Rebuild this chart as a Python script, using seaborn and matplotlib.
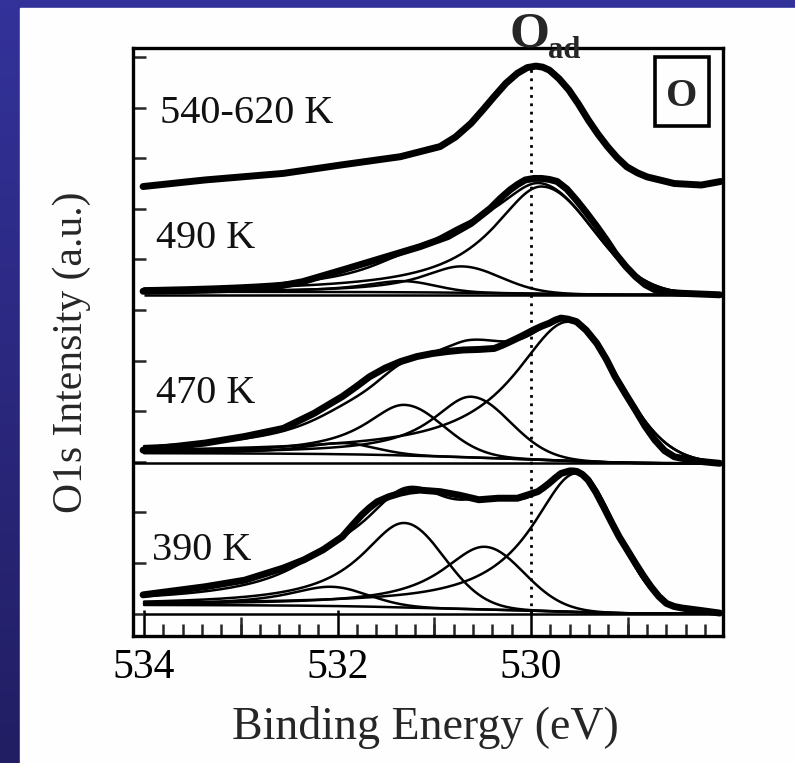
import numpy as np
import pandas as pd
import matplotlib
matplotlib.use("Agg")
import matplotlib.pyplot as plt
import seaborn as sns
from matplotlib.ticker import FixedLocator, MultipleLocator

be_390 = [534.01, 533.77, 533.37, 532.96, 532.56, 532.35, 532.15, 531.95, 531.85, 531.75,
          531.67, 531.59, 531.47, 531.35, 531.25, 531.15, 530.94, 530.74, 530.54, 530.34,
          530.14, 529.93, 529.87, 529.81, 529.75, 529.69, 529.60, 529.53, 529.47, 529.41,
          529.33, 529.25, 529.17, 529.09, 529.00, 528.92, 528.84, 528.76, 528.68, 528.60,
          528.52, 528.44, 528.24, 528.05]
int_390 = [0.37, 0.43, 0.53, 0.66, 0.90, 1.06, 1.26, 1.52, 1.74, 1.95,
           2.09, 2.21, 2.31, 2.38, 2.42, 2.44, 2.41, 2.34, 2.25, 2.28,
           2.28, 2.41, 2.49, 2.58, 2.68, 2.77, 2.82, 2.81, 2.75, 2.64,
           2.40, 2.11, 1.81, 1.52, 1.24, 0.99, 0.75, 0.53, 0.34, 0.20,
           0.14, 0.11, 0.06, 0.01]

be_470 = [534.01, 533.37, 532.96, 532.56, 532.24, 532.10, 531.95, 531.81, 531.67, 531.51,
          531.35, 531.18, 531.02, 530.86, 530.70, 530.54, 530.38, 530.30, 530.22, 530.10,
          529.97, 529.89, 529.81, 529.75, 529.69, 529.62, 529.53, 529.43, 529.32, 529.22,
          529.13, 529.02, 528.92, 528.82, 528.72, 528.62, 528.52, 528.32, 528.05]
int_470 = [3.23, 3.37, 3.50, 3.66, 3.96, 4.12, 4.29, 4.48, 4.68, 4.85,
           4.98, 5.08, 5.14, 5.18, 5.21, 5.22, 5.24, 5.30, 5.37, 5.48,
           5.61, 5.68, 5.74, 5.80, 5.84, 5.82, 5.77, 5.60, 5.34, 5.02,
           4.68, 4.33, 4.02, 3.70, 3.43, 3.22, 3.10, 3.02, 2.97]

be_490 = [534.01, 533.37, 532.72, 532.36, 531.95, 531.55, 531.15, 530.86, 530.62, 530.42,
          530.32, 530.22, 530.14, 530.06, 529.97, 529.89, 529.81, 529.73, 529.63, 529.53,
          529.43, 529.32, 529.22, 529.13, 529.02, 528.92, 528.82, 528.72, 528.58, 528.44,
          528.05]
int_490 = [6.37, 6.39, 6.43, 6.56, 6.79, 7.02, 7.25, 7.45, 7.71, 8.01,
           8.20, 8.37, 8.48, 8.57, 8.60, 8.60, 8.58, 8.54, 8.39, 8.17,
           7.93, 7.65, 7.38, 7.12, 6.86, 6.66, 6.50, 6.40, 6.35, 6.33,
           6.30]

be_540 = [534.01, 533.37, 532.56, 531.95, 531.35, 530.94, 530.78, 530.62, 530.50, 530.38,
          530.26, 530.14, 530.04, 529.95, 529.88, 529.81, 529.71, 529.61, 529.51, 529.41,
          529.31, 529.21, 529.11, 529.01, 528.90, 528.80, 528.52, 528.24, 528.04]
int_540 = [8.44, 8.57, 8.70, 8.87, 9.03, 9.23, 9.42, 9.69, 9.95, 10.22,
           10.48, 10.68, 10.79, 10.82, 10.80, 10.74, 10.57, 10.35, 10.07, 9.76,
           9.48, 9.23, 9.01, 8.83, 8.71, 8.63, 8.50, 8.47, 8.54]

# fitted peaks: centre (eV), height, FWHM on high-BE side, FWHM on low-BE side
fit_390_center = [532.07, 531.31, 530.48, 529.53]
fit_390_height = [0.38, 1.67, 1.24, 2.74]
fit_390_wl = [1.1, 1.1, 1.1, 1.15]
fit_390_wr = [0.9, 0.97, 0.95, 0.97]

fit_470_center = [531.95, 531.31, 530.62, 529.61]
fit_470_height = [0.22, 1.0, 1.2, 2.75]
fit_470_wl = [1.0, 1.0, 1.0, 1.4]
fit_470_wr = [0.8, 0.95, 0.95, 1.2]

fit_490_center = [531.33, 530.72, 529.89]
fit_490_height = [0.22, 0.52, 2.12]
fit_490_wl = [1.0, 1.0, 1.25]
fit_490_wr = [0.8, 0.95, 1.25]

# baseline level on the low-BE side and Shirley step height
base_levels = [0.0, 2.97, 6.30]
shirley_steps = [0.17, 0.20, 0.06]

temp_labels = ["390 K", "470 K", "490 K", "540-620 K"]
label_x = [533.92, 533.88, 533.88, 533.84]
label_y = [1.06, 4.16, 7.22, 9.69]


def peak(x, c, h, wl, wr):
    d = x - c
    hi = h / (1 + (2 * d / wl) ** 2)
    lo = h * np.exp(-4 * np.log(2) * (d / wr) ** 2)
    return np.where(d > 0, hi, lo)


sns.set_theme(style="white")
plt.rcParams["font.family"] = ["Liberation Serif", "DejaVu Serif"]

fig = plt.figure(figsize=(7.95, 7.63), dpi=100)
fig.patch.set_facecolor("#2c2b84")

# slide background: blue gradient with a white panel
bg_ax = fig.add_axes([0, 0, 1, 1], zorder=-10)
grad = np.linspace(0, 1, 256).reshape(-1, 1)
cmap = matplotlib.colors.LinearSegmentedColormap.from_list("slide", ["#33329a", "#221e63"])
bg_ax.imshow(grad, aspect="auto", cmap=cmap, extent=[0, 1, 0, 1])
bg_ax.add_patch(plt.Rectangle((20 / 795, 0), 1 - 20 / 795, 755 / 763, color="#fefefe"))
bg_ax.set_xlim(0, 1)
bg_ax.set_ylim(0, 1)
bg_ax.axis("off")

ax = fig.add_axes([133 / 795, 127 / 763, 590 / 795, 588 / 763])
ax.set_facecolor("none")

grid = np.linspace(528.05, 534.0, 600)
fits = [
    (fit_390_center, fit_390_height, fit_390_wl, fit_390_wr),
    (fit_470_center, fit_470_height, fit_470_wl, fit_470_wr),
    (fit_490_center, fit_490_height, fit_490_wl, fit_490_wr),
]
for i, ((cs, hs, wls, wrs), base, step) in enumerate(zip(fits, base_levels, shirley_steps)):
    comps = [peak(grid, c, h, a, b) for c, h, a, b in zip(cs, hs, wls, wrs)]
    total = np.sum(comps, axis=0)
    area = np.cumsum(total)
    bgline = base + step * area / area[-1]
    if i == 1:
        ax.axhline(base, color="black", lw=1.8)
    else:
        ax.hlines(base, 534.0, 528.05, color="black", lw=1.8)
    sns.lineplot(x=grid, y=bgline, ax=ax, color="black", lw=1.8, sort=False, estimator=None)
    for comp in comps:
        sns.lineplot(x=grid, y=bgline + comp, ax=ax, color="black", lw=1.8,
                     sort=False, estimator=None)
    sns.lineplot(x=grid, y=bgline + total, ax=ax, color="black", lw=1.8,
                 sort=False, estimator=None)

spectra = pd.DataFrame({
    "be": be_390 + be_470 + be_490 + be_540,
    "intensity": int_390 + int_470 + int_490 + int_540,
    "temp": (["390"] * len(be_390) + ["470"] * len(be_470)
             + ["490"] * len(be_490) + ["540"] * len(be_540)),
})
for t, df in spectra.groupby("temp"):
    sns.lineplot(data=df, x="be", y="intensity", ax=ax, color="black", lw=5,
                 sort=False, estimator=None, zorder=4, solid_capstyle="round",
                 solid_joinstyle="round")

ax.vlines(530.0, 0.0, 10.8, colors="black", linestyles=(0, (1, 2)), lw=2, zorder=5)

for txt, x, y in zip(temp_labels, label_x, label_y):
    ax.text(x, y, txt, fontsize=29, ha="left", va="baseline", color="#111111")

ax.text(530.02, 11.2, "O", fontsize=37, fontweight="bold", ha="center",
        va="baseline", clip_on=False)
ax.text(529.82, 10.98, "ad", fontsize=22, fontweight="bold", ha="left",
        va="baseline", clip_on=False)

# boxed panel tag
ax.add_patch(plt.Rectangle((0.8847, 0.8673), 0.0916, 0.1174, transform=ax.transAxes,
                           fill=False, ec="black", lw=2.6, zorder=6))
ax.text(0.9305, 0.902, "O", transform=ax.transAxes, fontsize=29, fontweight="bold",
        ha="center", va="baseline")

ax.set_xlim(534.114, 528.016)
ax.set_ylim(-0.443, 11.178)

ax.xaxis.set_major_locator(FixedLocator([530, 532, 534]))
ax.xaxis.set_minor_locator(MultipleLocator(0.2))
ax.set_xticklabels(["530", "532", "534"])
ax.set_yticks(range(12))
ax.set_yticklabels([])
ax.tick_params(axis="x", which="major", direction="in", length=19, width=1.8,
               labelsize=30, pad=9, colors="black", bottom=True)
ax.tick_params(axis="x", which="minor", direction="in", length=8.5, width=1.8, bottom=True)
ax.tick_params(axis="y", which="major", direction="in", length=9.5, width=1.8, left=True)

sec = ax.secondary_xaxis("bottom")
sec.xaxis.set_major_locator(FixedLocator([529, 531, 533]))
sec.tick_params(direction="in", length=14, width=1.8, labelbottom=False)
sec.spines["bottom"].set_visible(False)

for s in ax.spines.values():
    s.set_linewidth(2.4)
    s.set_color("black")

ax.set_xlabel("Binding Energy (eV)", fontsize=33)
ax.xaxis.set_label_coords(0.495, -0.119)
ax.xaxis.label.set_va("top")
ax.set_ylabel("O1s Intensity (a.u.)", fontsize=30)
ax.yaxis.set_label_coords(-0.071, 0.483)

fig.savefig("out.png", dpi=100, facecolor=fig.get_facecolor())
